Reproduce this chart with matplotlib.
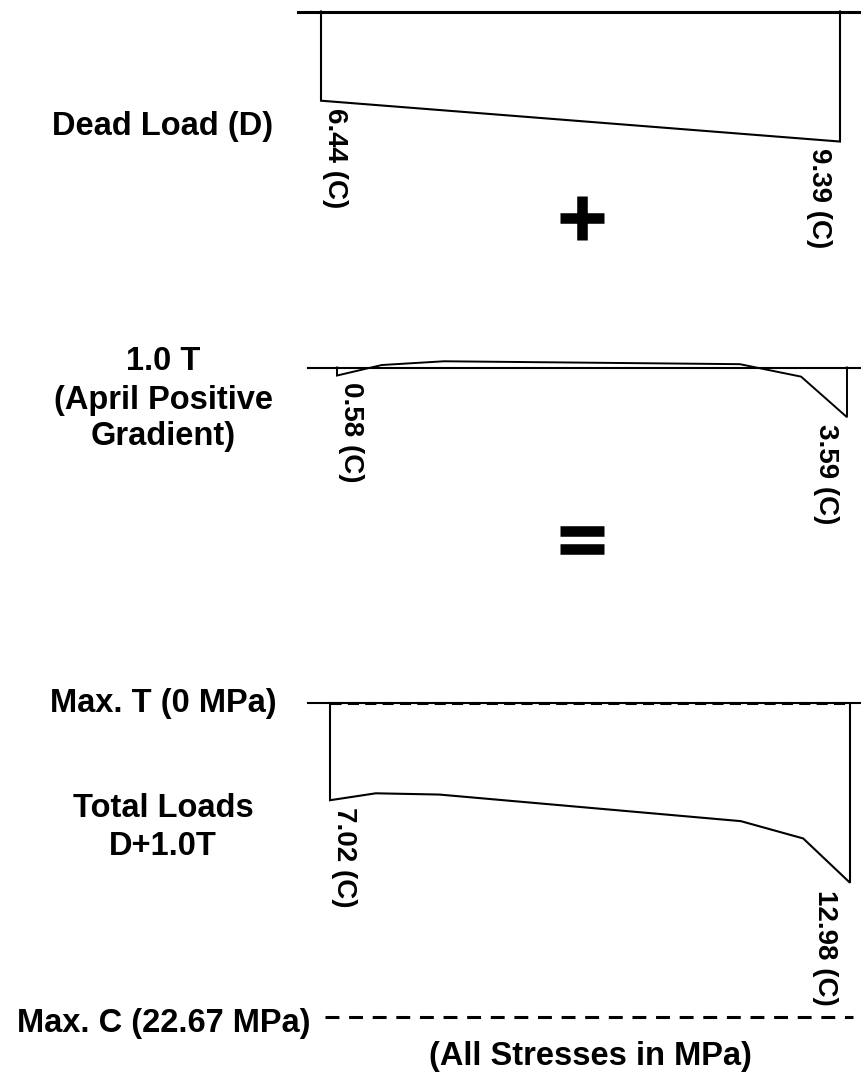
import matplotlib
matplotlib.use("Agg")
import matplotlib.pyplot as plt
from matplotlib.lines import Line2D
import numpy as np

plt.rcParams['font.family'] = ['Liberation Sans', 'DejaVu Sans']
plt.rcParams['font.weight'] = 'bold'
plt.rcParams['lines.scale_dashes'] = False

# section positions (fraction of depth, top -> bottom)
pos = [0.0, 0.088, 0.21, 0.79, 0.91, 1.0]

# stresses in MPa, compression positive
dead_pos = [0.0, 1.0]
dead = [6.44, 9.39]
temp = [0.58, -0.18, -0.45, -0.24, 0.66, 3.59]
total = [7.02, 6.52, 6.61, 8.53, 9.78, 12.98]
max_t = 0.0
max_c = 22.67

W, H = 862, 1072
scale = 13.85   # px per MPa

fig = plt.figure(figsize=(W / 100, H / 100), dpi=100)


def panel(x0, x1, base, vmin, vmax):
    ax = fig.add_axes([x0 / W, 1 - (base + vmax * scale) / H,
                       (x1 - x0) / W, (vmax - vmin) * scale / H])
    ax.set_xlim(0, 1)
    ax.set_ylim(vmax, vmin)
    ax.axis('off')
    return ax


def profile(ax, s, v, lw=1.5):
    xs = np.r_[s[0], s, s[-1]]
    ys = np.r_[0, v, 0]
    ax.plot(xs, ys, color='k', lw=lw, clip_on=False, solid_joinstyle='miter')


def end_labels(ax, s, v, dx_r=-6):
    ax.annotate("%.2f (C)" % v[0], xy=(s[0], v[0]), xytext=(1, -5),
                textcoords='offset points', rotation=-90, rotation_mode='anchor',
                ha='left', va='bottom', fontsize=20, fontweight='bold')
    ax.annotate("%.2f (C)" % v[-1], xy=(s[-1], v[-1]), xytext=(dx_r, -5),
                textcoords='offset points', rotation=-90, rotation_mode='anchor',
                ha='left', va='top', fontsize=20, fontweight='bold')


def ftext(x, y, s, **kw):
    fig.text(x / W, 1 - y / H, s, ha='center', va='baseline',
             fontsize=23.5, fontweight='bold', **kw)


# Dead load
ax1 = panel(321, 840, 11.5, -0.5, 10)
ax1.axhline(0, xmin=-0.044, xmax=1.05, color='k', lw=2.2, clip_on=False)
profile(ax1, dead_pos, dead)
end_labels(ax1, dead_pos, dead)

# Temperature
ax2 = panel(337, 847, 367.5, -1, 4)
ax2.axhline(0, xmin=-0.057, xmax=1.05, color='k', lw=1.5, clip_on=False)
profile(ax2, pos, temp, lw=1.4)
end_labels(ax2, pos, temp)

# Total
ax3 = panel(330, 850, 703, -0.5, 23.5)
ax3.axhline(0, xmin=-0.042, xmax=1.05, color='k', lw=1.5, clip_on=False)
ax3.axhline(max_t, xmin=0.0, xmax=1.0, color='k', lw=2.2, ls=(0, (8, 4.5)))
ax3.axhline(max_c, xmin=-0.01, xmax=1.005, color='k', lw=2.2,
            ls=(0, (10, 7)), clip_on=False)
profile(ax3, pos, total)
end_labels(ax3, pos, total, dx_r=-9)

# left-hand titles
ftext(163, 135, "Dead Load (D)")
ftext(163, 370, "1.0 T")
ftext(163, 409, "(April Positive")
ftext(163, 445, "Gradient)")
ftext(163, 712, "Max. T (0 MPa)")
ftext(163, 817, "Total Loads")
ftext(163, 855, "D+1.0T")
ftext(164, 1032, "Max. C (22.67 MPa)")
ftext(590, 1065, "(All Stresses in MPa)")

# operators between the diagrams
fig.add_artist(Line2D([582.5 / W], [1 - 218 / H], marker='+', ms=31, mew=7.6,
                      color='k', transform=fig.transFigure))
for yy in (531, 549):
    fig.add_artist(Line2D([582.5 / W], [1 - yy / H], marker='_', ms=31, mew=7.6,
                          color='k', transform=fig.transFigure))

fig.savefig("out.png", dpi=100)
